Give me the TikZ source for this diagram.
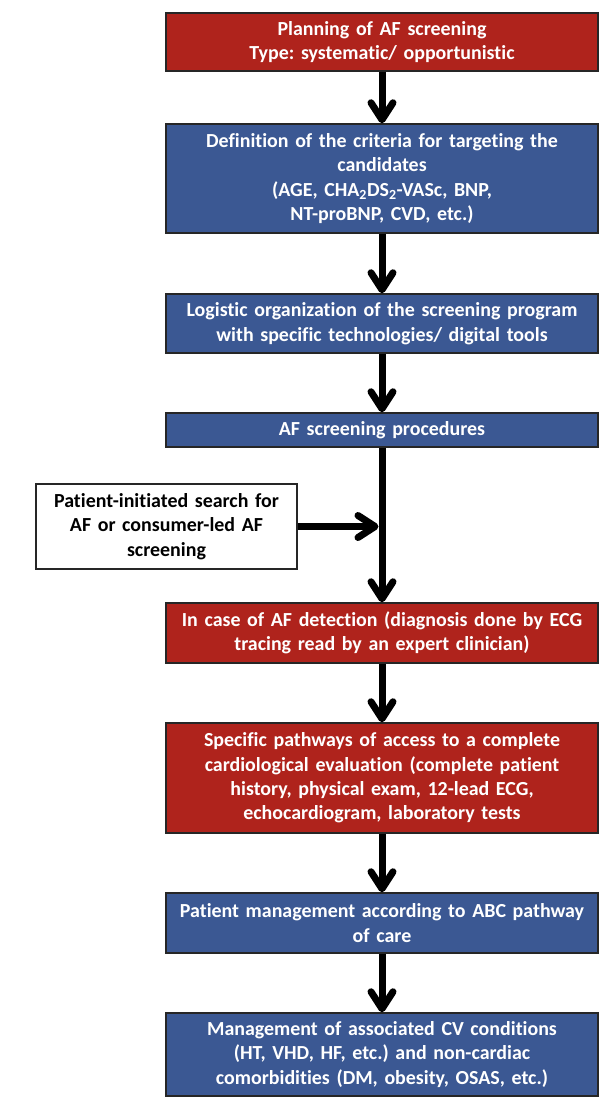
\documentclass[tikz,border=0pt]{standalone}
\usepackage{fontspec}
\setmainfont{Carlito}[Ligatures=NoCommon]
\frenchspacing
\usetikzlibrary{arrows.meta}
\definecolor{boxred}{RGB}{175,35,28}
\definecolor{boxblue}{RGB}{59,88,147}
\tikzset{
  stage/.style={draw=black!85, line width=1.5bp, minimum width=432bp, text width=424bp,
    align=center, inner sep=0pt, text=white, font=\bfseries\fontsize{20}{24.5}\selectfont},
  redstage/.style={stage, fill=boxred},
  bluestage/.style={stage, fill=boxblue},
  flow/.style={line width=7bp, -{Straight Barb[length=17bp, width=22bp, round]}}
}
\begin{document}
\begin{tikzpicture}[x=1bp, y=-1bp]
  \useasboundingbox (0,0) rectangle (601,1097);

  % Main column
  \node[redstage, minimum height=58bp] (plan) at (382,42) {Planning of AF screening\\Type: systematic/ opportunistic};
  \node[bluestage, minimum height=109bp] (criteria) at (382,178.5) {Definition of the criteria for targeting the\\candidates\\(AGE, CHA\textsubscript{2}DS\textsubscript{2}-VASc, BNP,\\NT-proBNP, CVD, etc.)};
  \node[bluestage, minimum height=59bp] (logistic) at (382,323.5) {Logistic organization of the screening program\\with specific technologies/ digital tools};
  \node[bluestage, minimum height=34bp] (proc) at (382,430) {AF screening procedures};
  \node[redstage, minimum height=60bp] (detect) at (382,633) {In case of AF detection (diagnosis done by ECG\\tracing read by an expert clinician)};
  \node[redstage, minimum height=110bp] (eval) at (382,778) {Specific pathways of access to a complete\\cardiological evaluation (complete patient\\history, physical exam, 12-lead ECG,\\echocardiogram, laboratory tests};
  \node[bluestage, minimum height=60bp] (abc) at (382,923) {Patient management according to ABC pathway\\of care};
  \node[bluestage, minimum height=83bp] (cond) at (382,1054.5) {Management of associated CV conditions\\(HT, VHD, HF, etc.) and non-cardiac\\comorbidities (DM, obesity, OSAS, etc.)};

  % Side entry
  \node[stage, fill=white, text=black, minimum width=261bp, text width=255bp, minimum height=85bp] (patient) at (166.5,526.5) {Patient-initiated search for\\AF or consumer-led AF\\screening};

  % Arrows
  \draw[flow] (plan) -- (criteria);
  \draw[flow] (criteria) -- (logistic);
  \draw[flow] (logistic) -- (proc);
  \draw[flow] (proc) -- (detect);
  \draw[flow, shorten >=3.5bp] (patient.east) -- (patient.east -| proc.south);
  \draw[flow] (detect) -- (eval);
  \draw[flow] (eval) -- (abc);
  \draw[flow] (abc) -- (cond);
\end{tikzpicture}
\end{document}
